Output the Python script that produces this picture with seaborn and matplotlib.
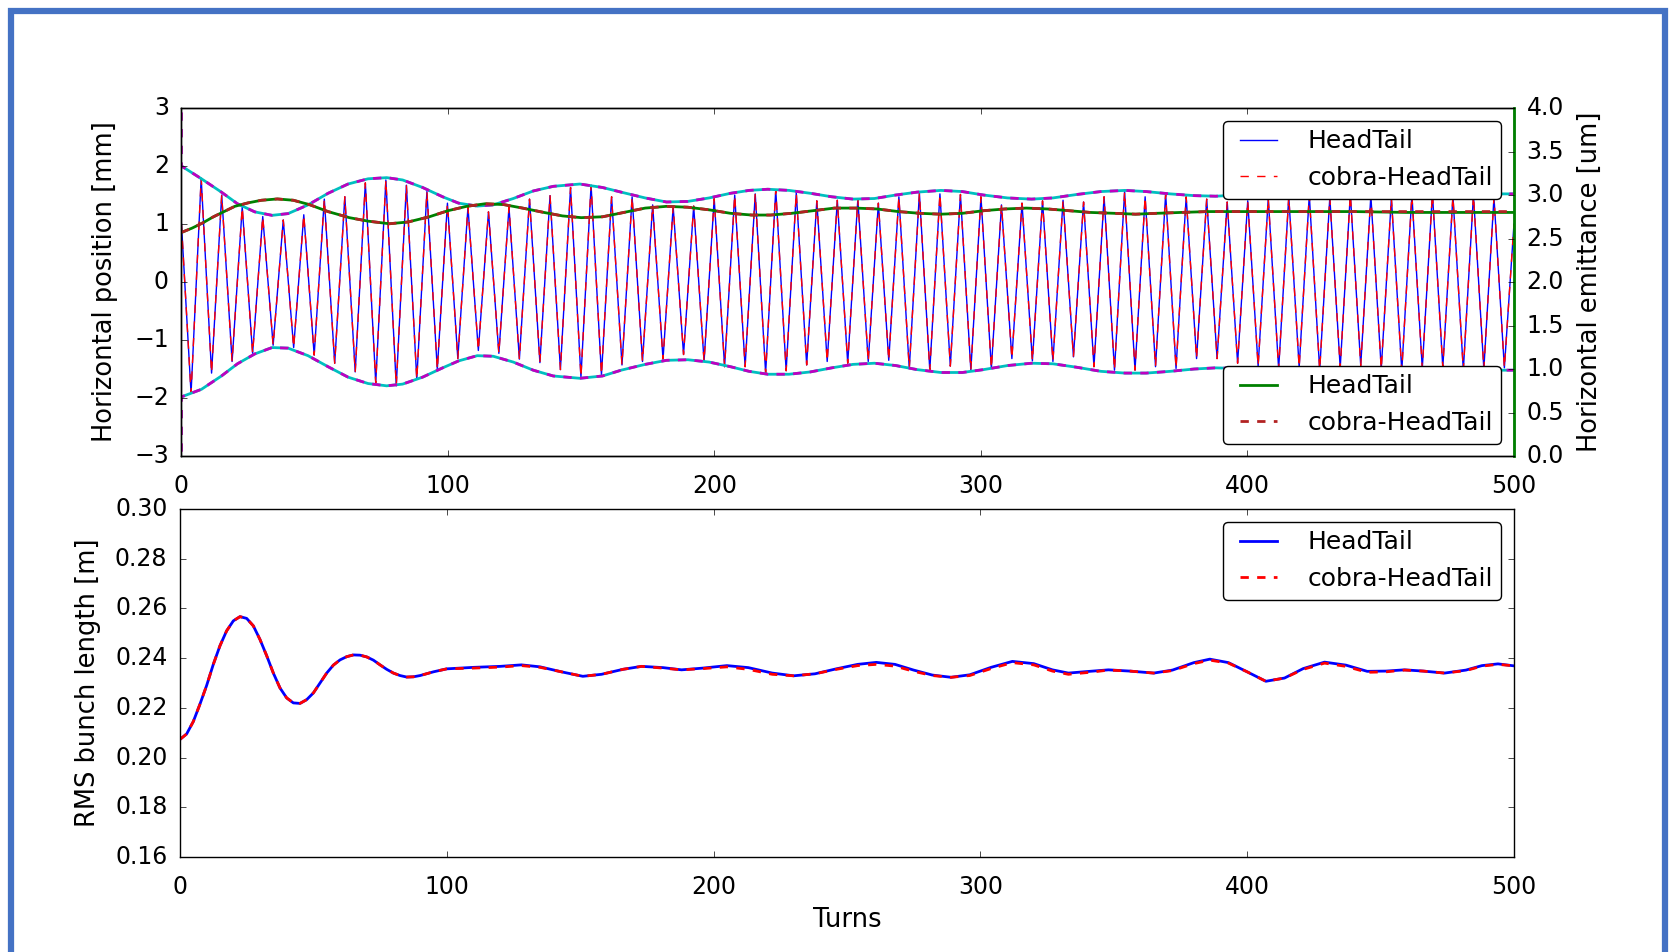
import numpy as np
import pandas as pd
import matplotlib
matplotlib.use("Agg")
import matplotlib.pyplot as plt
from matplotlib.patches import Rectangle
import seaborn as sns

# ---- horizontal position [mm], peaks and troughs of the betatron oscillation ----
peak_turns = [7.4, 15.1, 22.8, 30.5, 38.2, 45.9, 53.6, 61.3, 69.0, 76.7,
              84.4, 92.1, 99.8, 107.5, 115.2, 122.9, 130.6, 138.3, 146.0, 153.7,
              161.4, 169.1, 176.8, 184.5, 192.2, 199.9, 207.6, 215.3, 223.0, 230.7,
              238.4, 246.1, 253.8, 261.5, 269.2, 276.9, 284.6, 292.3, 300.0, 307.7,
              315.4, 323.1, 330.8, 338.5, 346.2, 353.9, 361.6, 369.3, 377.0, 384.7,
              392.4, 400.1, 407.8, 415.5, 423.2, 430.9, 438.6, 446.3, 454.0, 461.7,
              469.4, 477.1, 484.8, 492.5]
peak_mm = [1.79, 1.50, 1.29, 1.13, 1.07, 1.16, 1.43, 1.47, 1.71, 1.76,
           1.67, 1.56, 1.36, 1.29, 1.21, 1.29, 1.43, 1.49, 1.63, 1.67,
           1.47, 1.47, 1.33, 1.30, 1.31, 1.44, 1.50, 1.52, 1.59, 1.54,
           1.40, 1.41, 1.43, 1.36, 1.47, 1.53, 1.52, 1.51, 1.47, 1.33,
           1.36, 1.40, 1.41, 1.38, 1.47, 1.56, 1.47, 1.52, 1.47, 1.43,
           1.38, 1.40, 1.44, 1.47, 1.50, 1.46, 1.52, 1.49, 1.45, 1.50,
           1.53, 1.48, 1.50, 1.46]
trough_turns = [3.6, 11.3, 19.0, 26.7, 34.4, 42.1, 49.8, 57.5, 65.2, 72.9,
                80.6, 88.3, 96.0, 103.7, 111.4, 119.1, 126.8, 134.5, 142.2, 149.9,
                157.6, 165.3, 173.0, 180.7, 188.4, 196.1, 203.8, 211.5, 219.2, 226.9,
                234.6, 242.3, 250.0, 257.7, 265.4, 273.1, 280.8, 288.5, 296.2, 303.9,
                311.6, 319.3, 327.0, 334.7, 342.4, 350.1, 357.8, 365.5, 373.2, 380.9,
                388.6, 396.3, 404.0, 411.7, 419.4, 427.1, 434.8, 442.5, 450.2, 457.9,
                465.6, 473.3, 481.0, 488.7, 496.4]
trough_mm = [-1.92, -1.57, -1.37, -1.23, -1.09, -1.13, -1.26, -1.40, -1.55, -1.74,
             -1.79, -1.68, -1.51, -1.32, -1.18, -1.23, -1.33, -1.39, -1.51, -1.64,
             -1.60, -1.43, -1.37, -1.33, -1.25, -1.37, -1.46, -1.46, -1.57, -1.53,
             -1.43, -1.37, -1.40, -1.37, -1.35, -1.49, -1.52, -1.45, -1.52, -1.49,
             -1.32, -1.36, -1.37, -1.29, -1.46, -1.52, -1.52, -1.46, -1.49, -1.32,
             -1.32, -1.40, -1.45, -1.50, -1.47, -1.52, -1.48, -1.44, -1.50, -1.53,
             -1.49, -1.47, -1.52, -1.50, -1.48]
edge_turns = [0, 500]
edge_mm = [1.0, 1.0]

# ---- envelope of the oscillation [mm] ----
env_turns = [0, 7.5, 15, 21, 27.5, 34, 40, 47.5, 55, 62.5,
             70, 77, 83, 90.5, 98, 104, 111, 117, 124.5, 132,
             139.5, 149.5, 158, 165, 174, 182, 190, 198, 206, 213,
             220, 228, 236, 244, 252, 260, 268, 276, 285, 293,
             301, 310, 319, 327, 336, 345, 354, 362, 371, 380,
             388, 397, 406, 415, 424, 433, 442, 451, 460, 470,
             480, 490, 500]
env_upper = [2.0, 1.78, 1.55, 1.35, 1.21, 1.15, 1.18, 1.33, 1.53, 1.69,
             1.78, 1.80, 1.76, 1.63, 1.47, 1.36, 1.31, 1.33, 1.44, 1.57,
             1.65, 1.69, 1.63, 1.55, 1.45, 1.38, 1.39, 1.45, 1.53, 1.58,
             1.60, 1.58, 1.53, 1.47, 1.43, 1.44, 1.50, 1.55, 1.58, 1.56,
             1.50, 1.45, 1.43, 1.45, 1.51, 1.56, 1.58, 1.56, 1.52, 1.49,
             1.48, 1.50, 1.53, 1.55, 1.55, 1.53, 1.51, 1.50, 1.50, 1.51,
             1.52, 1.52, 1.52]
env_lower = [-1.98, -1.85, -1.62, -1.41, -1.24, -1.13, -1.14, -1.27, -1.46, -1.64,
             -1.75, -1.79, -1.76, -1.64, -1.48, -1.36, -1.27, -1.28, -1.38, -1.52,
             -1.62, -1.66, -1.62, -1.52, -1.42, -1.35, -1.34, -1.38, -1.46, -1.54,
             -1.59, -1.59, -1.55, -1.48, -1.42, -1.40, -1.44, -1.51, -1.56, -1.56,
             -1.51, -1.44, -1.40, -1.41, -1.47, -1.54, -1.57, -1.57, -1.54, -1.50,
             -1.48, -1.49, -1.51, -1.53, -1.53, -1.52, -1.51, -1.50, -1.51, -1.52,
             -1.52, -1.52, -1.52]
# cobra envelope starts with a spike at turn 0
cobra_spike = [3.5, -3.5]

# ---- horizontal emittance [um] ----
em_turns = [0, 4, 8, 12, 16, 20, 25, 30, 36, 42,
            48, 55, 63, 70, 78, 85, 93, 100, 107, 114,
            121, 128, 136, 143, 150, 158, 166, 174, 182, 190,
            198, 206, 214, 221, 229, 237, 245, 253, 261, 269,
            277, 285, 293, 301, 309, 317, 325, 333, 341, 350,
            358, 366, 375, 385, 400, 420, 440, 460, 480, 500]
em_headtail = [2.57, 2.62, 2.68, 2.75, 2.81, 2.87, 2.91, 2.94, 2.955, 2.94,
               2.89, 2.81, 2.74, 2.70, 2.67, 2.69, 2.75, 2.82, 2.87, 2.90,
               2.89, 2.85, 2.80, 2.76, 2.74, 2.75, 2.80, 2.85, 2.87, 2.86,
               2.83, 2.79, 2.77, 2.77, 2.79, 2.82, 2.85, 2.85, 2.84, 2.81,
               2.79, 2.78, 2.79, 2.82, 2.84, 2.85, 2.84, 2.82, 2.80, 2.79,
               2.78, 2.79, 2.80, 2.81, 2.81, 2.81, 2.81, 2.80, 2.80, 2.80]
em_cobra = [2.57, 2.62, 2.68, 2.75, 2.81, 2.87, 2.91, 2.94, 2.955, 2.94,
            2.89, 2.81, 2.74, 2.70, 2.67, 2.69, 2.75, 2.82, 2.87, 2.90,
            2.89, 2.85, 2.80, 2.76, 2.74, 2.75, 2.80, 2.85, 2.87, 2.86,
            2.83, 2.79, 2.77, 2.77, 2.79, 2.82, 2.85, 2.85, 2.84, 2.81,
            2.79, 2.78, 2.79, 2.82, 2.84, 2.85, 2.84, 2.82, 2.80, 2.79,
            2.78, 2.79, 2.80, 2.81, 2.81, 2.81, 2.81, 2.81, 2.81, 2.81]

# ---- RMS bunch length [m] ----
bl_turns = [0, 2.5, 5, 7.5, 10, 12.5, 15, 17.5, 20, 22.5,
            25, 27.5, 30, 32.5, 35, 37.5, 40, 42.5, 45, 47.5,
            50, 52.5, 55, 57.5, 60, 62.5, 65, 67.5, 70, 72.5,
            75, 77.5, 80, 82.5, 85, 87.5, 90, 95, 100, 110,
            120, 128, 135, 143, 151, 158, 166, 173, 181, 188,
            196, 205, 213, 222, 230, 238, 246, 254, 261, 268,
            275, 282, 289, 296, 304, 312, 320, 327, 333, 341,
            348, 356, 365, 372, 380, 386, 393, 400, 407, 414,
            421, 429, 437, 445, 452, 459, 466, 474, 482, 488,
            494, 500]
bl_headtail = [0.2073, 0.2095, 0.2145, 0.2215, 0.2290, 0.2375, 0.2450, 0.2510, 0.2550, 0.2567,
               0.2560, 0.2530, 0.2475, 0.2410, 0.2340, 0.2280, 0.2240, 0.2220, 0.2218, 0.2233,
               0.2260, 0.2300, 0.2340, 0.2372, 0.2393, 0.2406, 0.2413, 0.2412, 0.2405, 0.2392,
               0.2373, 0.2355, 0.2340, 0.2330, 0.2324, 0.2325, 0.2330, 0.2345, 0.2357, 0.2363,
               0.2367, 0.2373, 0.2365, 0.2345, 0.2327, 0.2335, 0.2355, 0.2367, 0.2362, 0.2353,
               0.2360, 0.2370, 0.2362, 0.2340, 0.2329, 0.2337, 0.2357, 0.2375, 0.2383, 0.2375,
               0.2352, 0.2332, 0.2323, 0.2333, 0.2363, 0.2387, 0.2378, 0.2353, 0.2340, 0.2347,
               0.2353, 0.2348, 0.2340, 0.2352, 0.2382, 0.2396, 0.2382, 0.2345, 0.2307, 0.2320,
               0.2358, 0.2384, 0.2372, 0.2347, 0.2348, 0.2353, 0.2348, 0.2340, 0.2352, 0.2370,
               0.2377, 0.2369]
bl_cobra = [0.2073, 0.2095, 0.2145, 0.2215, 0.2290, 0.2375, 0.2450, 0.2510, 0.2550, 0.2567,
            0.2560, 0.2530, 0.2475, 0.2410, 0.2340, 0.2280, 0.2240, 0.2220, 0.2218, 0.2233,
            0.2260, 0.2300, 0.2340, 0.2372, 0.2393, 0.2406, 0.2413, 0.2412, 0.2405, 0.2392,
            0.2373, 0.2355, 0.2340, 0.2330, 0.2324, 0.2325, 0.2330, 0.2345, 0.2357, 0.2360,
            0.2364, 0.2370, 0.2363, 0.2345, 0.2327, 0.2335, 0.2355, 0.2367, 0.2360, 0.2353,
            0.2358, 0.2365, 0.2355, 0.2335, 0.2329, 0.2337, 0.2355, 0.2370, 0.2375, 0.2368,
            0.2347, 0.2330, 0.2323, 0.2330, 0.2358, 0.2382, 0.2373, 0.2348, 0.2335, 0.2343,
            0.2352, 0.2348, 0.2340, 0.2350, 0.2378, 0.2392, 0.2380, 0.2345, 0.2307, 0.2320,
            0.2355, 0.2380, 0.2367, 0.2343, 0.2345, 0.2352, 0.2348, 0.2340, 0.2350, 0.2368,
            0.2375, 0.2369]

pos = pd.DataFrame({
    "turn": peak_turns + trough_turns + edge_turns,
    "x": peak_mm + trough_mm + edge_mm,
}).sort_values("turn")

# ---- style: old matplotlib look ----
plt.style.use("classic")
plt.rcParams.update({
    "font.family": ["DejaVu Sans"],
    "font.size": 17,
    "axes.labelsize": 18.5,
    "legend.fontsize": 18,
    "figure.facecolor": "white",
    "savefig.facecolor": "white",
    "axes.unicode_minus": True,
    "xtick.major.pad": 13,
    "ytick.major.pad": 9,
})

fig = plt.figure(figsize=(16.74, 9.52), dpi=100)
ax1 = fig.add_axes([0.1084, 0.5210, 0.7960, 0.3655])
ax3 = fig.add_axes([0.1075, 0.0998, 0.7969, 0.3655])

lkw = dict(estimator=None, errorbar=None, legend=False)
leg_kw = dict(fancybox=True, framealpha=1, edgecolor="black",
              handlelength=2.1, handletextpad=0.9, borderpad=0.35)

# top: position
sns.lineplot(data=pos, x="turn", y="x", ax=ax1, color="b", lw=1, sort=False, **lkw)
sns.lineplot(data=pos, x="turn", y="x", ax=ax1, color="r", lw=1, ls="--", sort=False, **lkw)
for env in (env_upper, env_lower):
    sns.lineplot(x=env_turns, y=env, ax=ax1, color="c", lw=2, sort=False, **lkw)
for env, spike in ((env_upper, cobra_spike[0]), (env_lower, cobra_spike[1])):
    sns.lineplot(x=[0] + env_turns, y=[spike] + env, ax=ax1, color="m",
                 lw=2, ls="--", sort=False, **lkw)
ax1.set_xlim(0, 500)
ax1.set_ylim(-3, 3)
ax1.set_xlabel("")
ax1.set_ylabel("Horizontal position [mm]", labelpad=12)
h_pos = [plt.Line2D([], [], color="b", lw=1), plt.Line2D([], [], color="r", lw=1, ls="--")]
ax1.legend(h_pos, ["HeadTail", "cobra-HeadTail"], loc="upper right", **leg_kw)

# top: emittance on twin axis
ax2 = ax1.twinx()
sns.lineplot(x=em_turns, y=em_headtail, ax=ax2, color="g", lw=2, sort=False, **lkw)
sns.lineplot(x=em_turns, y=em_cobra, ax=ax2, color="#b22222", lw=2, ls="--", sort=False, **lkw)
ax2.set_xlim(0, 500)
ax2.set_ylim(0, 4)
ax2.set_yticks(np.arange(0, 4.01, 0.5))
ax2.set_ylabel("Horizontal emittance [um]", labelpad=9)
ax2.spines["right"].set_color("green")
ax2.spines["right"].set_linewidth(2)
h_em = [plt.Line2D([], [], color="g", lw=2), plt.Line2D([], [], color="#b22222", lw=2, ls="--")]
ax2.legend(h_em, ["HeadTail", "cobra-HeadTail"], loc="lower right", **leg_kw)

# bottom: bunch length
sns.lineplot(x=bl_turns, y=bl_headtail, ax=ax3, color="b", lw=2, sort=False, **lkw)
sns.lineplot(x=bl_turns, y=bl_cobra, ax=ax3, color="r", lw=2, ls="--", sort=False, **lkw)
ax3.set_xlim(0, 500)
ax3.set_ylim(0.16, 0.30)
ax3.set_yticks(np.arange(0.16, 0.301, 0.02))
ax3.set_xlabel("Turns", labelpad=6)
ax3.set_ylabel("RMS bunch length [m]", labelpad=10)
h_bl = [plt.Line2D([], [], color="b", lw=2), plt.Line2D([], [], color="r", lw=2, ls="--")]
ax3.legend(h_bl, ["HeadTail", "cobra-HeadTail"], loc="upper right", **leg_kw)

# slide frame
fig.patches.append(Rectangle((11.5 / 1674, -3 / 952), 1653 / 1674, 944.5 / 952,
                             transform=fig.transFigure, fill=False, lw=4.5,
                             edgecolor="#4472c4", zorder=10))

fig.savefig("out.png", dpi=100)
